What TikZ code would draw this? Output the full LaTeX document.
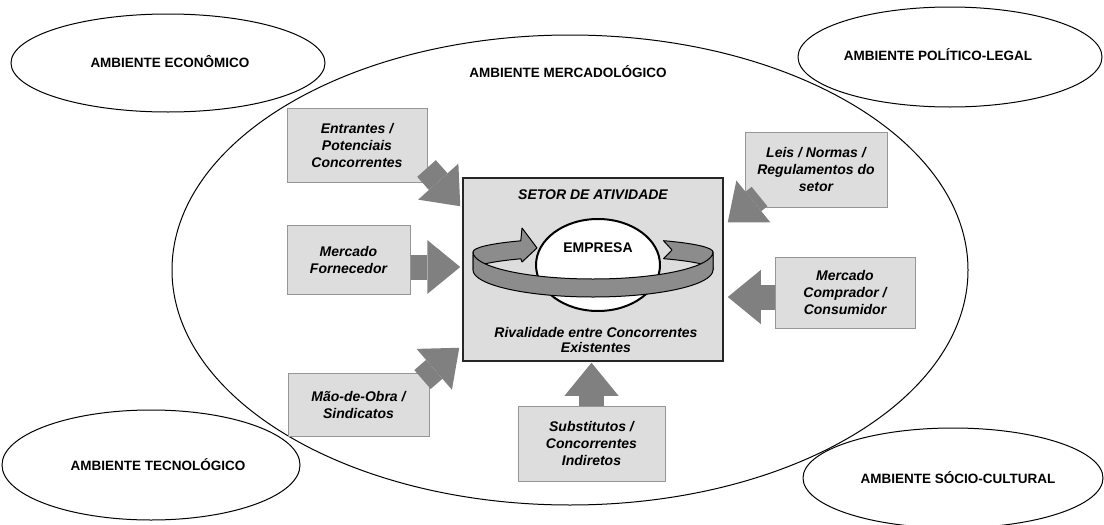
\documentclass[tikz,border=0pt]{standalone}
\usepackage{fontspec}
\setmainfont{Liberation Sans}
\usetikzlibrary{shapes.geometric,arrows.meta,calc}
\definecolor{boxfill}{RGB}{221,221,221}
\definecolor{boxline}{RGB}{150,150,150}
\definecolor{arrowgray}{RGB}{128,128,128}
\definecolor{ringgray}{RGB}{140,140,140}
\begin{document}
\begin{tikzpicture}[x=1pt,y=1pt,
  env/.style={ellipse, draw=black, line width=1pt, inner sep=0pt},
  envlabel/.style={font=\fontsize{13.5}{15}\selectfont\bfseries, inner sep=0pt},
  forcebox/.style={rectangle, draw=boxline, fill=boxfill, line width=1pt, align=center,
    font=\fontsize{14}{17}\selectfont\bfseries\itshape, inner sep=0pt},
  sectorbox/.style={rectangle, draw=black!85, fill=boxfill, line width=1.5pt, inner sep=0pt},
  sectorlabel/.style={align=center, font=\fontsize{14}{15.5}\selectfont\bfseries\itshape, inner sep=0pt},
  bigarrow/.style={draw=arrowgray, line width=25pt,
    -{Triangle[width=54pt,length=33pt,line width=0pt]}},
  ringpart/.style={fill=ringgray, draw=black, line width=1pt, line join=round}
]
\useasboundingbox (0,0) rectangle (1104,-525);

% surrounding environments
\node[env, minimum width=796, minimum height=470] (merc) at (570,-270) {};
\node[envlabel] (mercl) at (568,-72) {AMBIENTE MERCADOLÓGICO};
\node[env, minimum width=314, minimum height=98] (eco) at (168,-63) {};
\node[envlabel] (ecol) at (170,-62) {AMBIENTE ECONÔMICO};
\node[env, minimum width=304, minimum height=100] (pol) at (950,-57) {};
\node[envlabel] (poll) at (938,-55) {AMBIENTE POLÍTICO-LEGAL};
\node[env, minimum width=298, minimum height=110] (tec) at (151,-465) {};
\node[envlabel] (tecl) at (158,-465) {AMBIENTE TECNOLÓGICO};
\node[env, minimum width=300, minimum height=100] (soc) at (953,-478) {};
\node[envlabel] (socl) at (958,-478) {AMBIENTE SÓCIO-CULTURAL};

% central sector box
\node[sectorbox, minimum width=260, minimum height=183] (setor) at (593,-269.5) {};
\node[sectorlabel] (setorl) at (593,-195) {SETOR DE ATIVIDADE};
\node[sectorlabel] (rival) at (596,-340) {Rivalidade entre Concorrentes\\Existentes};

% rotating ribbon: back pieces, company sphere, front band
\path[ringpart] (473,-252) arc[start angle=180, end angle=127, x radius=120pt, y radius=14pt]
  -- (522,-228) -- (537,-248) -- (522,-262)
  -- (520.8,-258.8) arc[start angle=127, end angle=180, x radius=120pt, y radius=14pt] -- cycle;
\path[ringpart] (663.5,-240.7) arc[start angle=54, end angle=0, x radius=120pt, y radius=14pt]
  -- (713,-270) arc[start angle=0, end angle=54, x radius=120pt, y radius=14pt]
  -- (672,-250) -- cycle;
\node[ellipse, draw=black, line width=2pt, fill=white, minimum width=124, minimum height=92, inner sep=0pt] (emp) at (598,-265) {};
\node[font=\fontsize{14}{15}\selectfont\bfseries, inner sep=0pt] (empl) at (598,-248) {EMPRESA};
\path[ringpart] (473,-252) arc[start angle=180, end angle=360, x radius=120pt, y radius=27pt]
  -- (713,-270) arc[start angle=0, end angle=-180, x radius=120pt, y radius=27pt] -- cycle;

% competitive forces
\node[forcebox, minimum width=140, minimum height=74] (ent) at (357,-145) {Entrantes /\\Potenciais\\Concorrentes};
\node[forcebox, minimum width=123, minimum height=69] (forn) at (348.5,-259.5) {Mercado\\Fornecedor};
\node[forcebox, minimum width=141, minimum height=63] (mao) at (358.5,-404.5) {Mão-de-Obra /\\Sindicatos};
\node[forcebox, minimum width=142, minimum height=75] (leis) at (816,-169.5) {Leis / Normas /\\Regulamentos do\\setor};
\node[forcebox, minimum width=140, minimum height=71] (comp) at (845,-292.5) {Mercado\\Comprador /\\Consumidor};
\node[forcebox, minimum width=147, minimum height=75] (sub) at (591.5,-443.5) {Substitutos /\\Concorrentes\\Indiretos};

% arrow targets on the sector box
\coordinate (tEnt) at ($(setor.north west)+(-2,-29)$);
\coordinate (tForn) at ($(setor.west)+(-2,2.5)$);
\coordinate (tMao) at ($(setor.south west)+(-3,14)$);
\coordinate (tLeis) at ($(setor.north east)+(4,-45)$);
\coordinate (tComp) at ($(setor.east)+(4,-27.5)$);
\coordinate (tSub) at ($(sub.north |- setor.south)+(0,-1)$);

\draw[bigarrow] ($(ent.south east)+(-1,14)$) -- (tEnt);
\draw[bigarrow] (forn.east |- tForn) -- (tForn);
\draw[bigarrow] ($(mao.north east)+(-7,-7)$) -- (tMao);
\draw[bigarrow] ($(leis.south west)+(15,11)$) -- (tLeis);
\draw[bigarrow] (comp.west |- tComp) -- (tComp);
\draw[bigarrow] (sub.north) -- (tSub);
\end{tikzpicture}
\end{document}
